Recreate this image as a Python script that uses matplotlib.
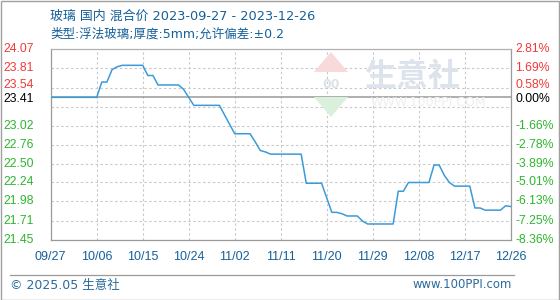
import matplotlib
matplotlib.use("Agg")
import matplotlib.pyplot as plt
import matplotlib.transforms as mtransforms
from matplotlib.patches import Rectangle, Polygon
from matplotlib.lines import Line2D
import pandas as pd

# ---------------- data ----------------
start_date = "2023-09-27"
end_date = "2023-12-26"
prices = [
    23.41, 23.41, 23.41, 23.41, 23.41, 23.41, 23.41, 23.41, 23.41, 23.41,
    23.62, 23.62, 23.79, 23.83, 23.85, 23.85, 23.85, 23.85, 23.85,
    23.71, 23.71, 23.58, 23.58, 23.58, 23.58, 23.58, 23.52, 23.41,
    23.30, 23.30, 23.30, 23.30, 23.30, 23.30, 23.17, 23.04,
    22.91, 22.91, 22.91, 22.91, 22.80, 22.68, 22.66,
    22.63, 22.63, 22.63, 22.63, 22.63, 22.63, 22.63,
    22.23, 22.23, 22.23, 22.23, 22.03, 21.83, 21.83, 21.81,
    21.78, 21.78, 21.78, 21.71,
    21.67, 21.67, 21.67, 21.67, 21.67, 21.67,
    22.12, 22.12, 22.24, 22.24, 22.24, 22.24, 22.24,
    22.48, 22.48, 22.34, 22.24, 22.19, 22.19, 22.19, 22.19,
    21.89, 21.89, 21.86, 21.86, 21.86, 21.86, 21.92, 21.91,
]
base_value = 23.41
base_label = "0.00%"
ytick_values = [21.45, 21.71, 21.98, 22.24, 22.50, 22.76, 23.02, 23.28, 23.54, 23.81, 24.07]
ytick_labels = ["21.45", "21.71", "21.98", "22.24", "22.50", "22.76", "23.02", "", "23.54", "23.81", "24.07"]
pct_labels = ["-8.36%", "-7.25%", "-6.13%", "-5.01%", "-3.89%", "-2.78%", "-1.66%", "", "0.58%", "1.69%", "2.81%"]
xtick_labels = ["09/27", "10/06", "10/15", "10/24", "11/02", "11/11", "11/20",
                "11/29", "12/08", "12/17", "12/26"]
title_line1 = "玻璃 国内 混合价 2023-09-27 - 2023-12-26"
title_line2 = "类型:浮法玻璃;厚度:5mm;允许偏差:±0.2"
footer_left = "© 2025.05 生意社"
footer_right = "www.100PPI.com"

dates = pd.date_range(start_date, end_date, freq="D")
xticks = pd.date_range(start_date, end_date, freq="9D")

# ---------------- style ----------------
W, H = 560, 300
mixed = ["DejaVu Sans", "Noto Sans CJK SC"]
cjk = ["Noto Sans CJK SC", "DejaVu Sans"]
num_font = ["Liberation Sans Narrow", "Liberation Sans", "DejaVu Sans"]
RED = "#f03a3a"
GREEN = "#2fb52f"
BLUE_TXT = "#15609a"
LINE = "#3b9ad9"
GRID = "#c9c9c9"
FRAME = "#9a9a9a"

fig = plt.figure(figsize=(W / 100, H / 100), dpi=100)
fig.patch.set_facecolor("white")

def fx(x):
    return x / W

def fy(y):
    return 1 - y / H

L, R, T, B = 50.7, 510.7, 49.3, 240.0
ax = fig.add_axes([fx(L), fy(B), (R - L) / W, (B - T) / H])
ax.set_facecolor("none")

# watermark
fig.text(fx(412), fy(77), "生意社", family=cjk, fontsize=23, color="#dde3ec",
         ha="center", va="center", fontweight="bold", zorder=0)
fig.text(fx(428), fy(103), "WWW.100PPI.COM", family=["DejaVu Sans"], fontsize=9,
         color="#eceef2", ha="center", va="center", zorder=0)
fig.patches.append(Polygon([[fx(314), fy(72)], [fx(331), fy(52)], [fx(348), fy(72)]],
                           closed=True, transform=fig.transFigure, facecolor="#f8dada",
                           edgecolor="none", zorder=0))
fig.patches.append(Polygon([[fx(314), fy(97)], [fx(331), fy(117)], [fx(348), fy(97)]],
                           closed=True, transform=fig.transFigure, facecolor="#daf0dc",
                           edgecolor="none", zorder=0))
fig.text(fx(331), fy(85), "00", family=["DejaVu Sans"], fontsize=9, color="#dde2ea",
         ha="center", va="center", zorder=0, fontweight="bold")

ax.plot(dates, prices, color=LINE, lw=1.1, zorder=4)
ax.axhline(base_value, color="#999999", lw=1.1, zorder=3)

ax.set_xlim(dates[0], dates[-1])
ax.set_ylim(ytick_values[0], ytick_values[-1])
ax.set_yticks(ytick_values)
ax.set_yticklabels([])
ax.set_xticks(xticks)
ax.set_xticklabels(xtick_labels, fontfamily=num_font, fontsize=9, color=BLUE_TXT)
ax.tick_params(axis="both", length=0)
ax.tick_params(axis="x", pad=8)
ax.grid(True, ls=(0, (2.2, 2.2)), color=GRID, lw=0.8, zorder=1)
for s in ax.spines.values():
    s.set_color(FRAME)
    s.set_linewidth(0.9)
ax.spines["top"].set_color("#b0b0b0")

trans = mtransforms.blended_transform_factory(ax.transAxes, ax.transData)
up = trans + mtransforms.ScaledTranslation(0, 2.0 / 72, fig.dpi_scale_trans)
down = trans + mtransforms.ScaledTranslation(0, -1.5 / 72, fig.dpi_scale_trans)
xl = (34 - L) / (R - L)
xr = (515 - L) / (R - L)
FS = 8.8
for v, lab, pl in zip(ytick_values, ytick_labels, pct_labels):
    if not lab:
        continue
    c = RED if v > base_value else GREEN
    tr = up if abs(v - base_value) < 0.2 else trans
    ax.text(xl, v, lab, transform=tr, ha="right", va="center", color=c,
            fontfamily=num_font, fontsize=FS, clip_on=False)
    ax.text(xr, v, pl, transform=tr, ha="left", va="center", color=c,
            fontfamily=num_font, fontsize=FS, clip_on=False)
ax.text(xl, base_value, f"{base_value:.2f}", transform=down, ha="right", va="center",
        color="black", fontfamily=num_font, fontsize=FS, clip_on=False)
ax.text(xr, base_value, base_label, transform=down, ha="left", va="center",
        color="black", fontfamily=num_font, fontsize=FS, clip_on=False)

# titles
fig.text(fx(50), fy(16), title_line1, family=mixed, fontsize=9.3, color=BLUE_TXT,
         ha="left", va="center")
fig.text(fx(50), fy(34), title_line2, family=mixed, fontsize=9, color=BLUE_TXT,
         ha="left", va="center")

# footer
fig.lines.append(Line2D([fx(10), fx(514)], [fy(275), fy(275)], transform=fig.transFigure,
                        color=FRAME, lw=0.9))
fig.text(fx(10), fy(285), footer_left, family=mixed, fontsize=9, color="#2a6b9c",
         ha="left", va="center")
fig.text(fx(512), fy(285), footer_right, family=mixed, fontsize=8.4, color="#2a6b9c",
         ha="right", va="center")

# outer frame
fig.patches.append(Rectangle((0.5 / W, 0.5 / H), 1 - 1.5 / W, 1 - 1.5 / H,
                             transform=fig.transFigure, fill=False, edgecolor="#a0a0a0",
                             lw=1.0))

fig.savefig("out.png", dpi=100, facecolor="white")
